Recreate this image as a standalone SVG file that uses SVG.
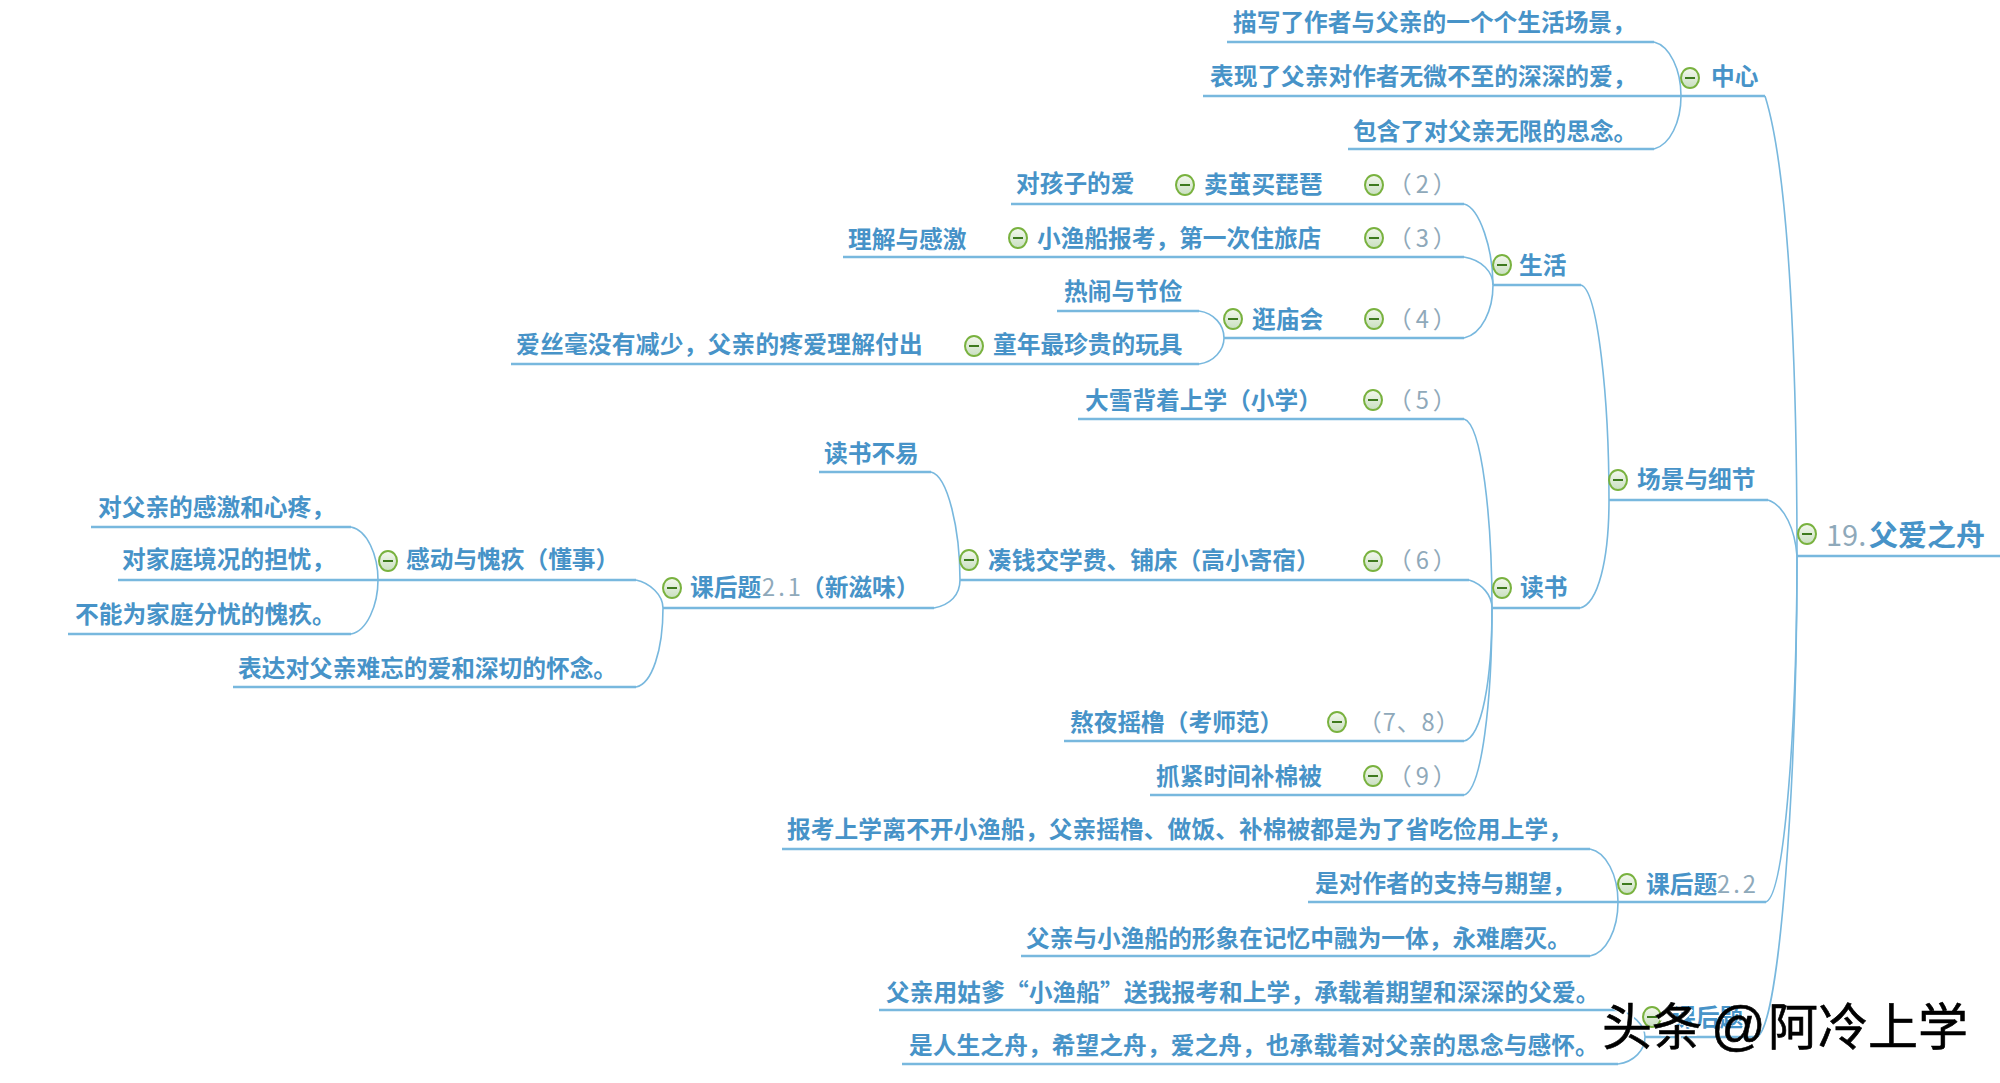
<svg xmlns="http://www.w3.org/2000/svg" width="2000" height="1083" viewBox="0 0 2000 1083">
<style>
text{font-family:"Noto Sans CJK SC","Noto Sans",sans-serif;font-size:23.7px;font-weight:700;fill:#4793c8;transform:translate(0,1px)}
text .n,.n{font-weight:400;fill:#8fa9ba}
.p{letter-spacing:4px}
.c path{fill:none;stroke:#78b8de;stroke-width:1.6}
.c path.u{stroke-width:2.4}
.root{font-size:29px}
.wm{font-size:50px;font-weight:400;fill:#000;stroke:#000;stroke-width:.6}
.ws{font-size:50px;font-weight:400;fill:#fff}
</style>
<defs>
<linearGradient id="g" x1="0" y1="0" x2="0" y2="1"><stop offset="0" stop-color="#f4f8ee"/><stop offset="1" stop-color="#c9dfc0"/></linearGradient>
<g id="i"><ellipse rx="9" ry="10" fill="url(#g)" stroke="#79b23f" stroke-width="2"/><path d="M-5 0H5" stroke="#3e7a1e" stroke-width="2"/></g>
</defs>
<rect width="2000" height="1083" fill="#fff"/>
<g id="connectors" class="c">
<path class="u" d="M1797 556H2000"/>
<path d="M1797 556C1797 380 1790 175 1765 96"/>
<path class="u" d="M1203 96H1765"/>
<path class="u" d="M1227 42H1654"/><path d="M1654 42C1670 46 1681 70 1681 96"/>
<path class="u" d="M1348 149H1654"/><path d="M1654 149C1670 145 1681 122 1681 96"/>
<path class="u" d="M1609 500H1768"/><path d="M1768 500C1785 506 1795 530 1797 556"/>
<path class="u" d="M1493 285H1581"/><path d="M1581 285C1598 290 1609 400 1609 500"/>
<path class="u" d="M1492 608H1580"/><path d="M1580 608C1598 604 1609 560 1609 500"/>
<path class="u" d="M1011 204H1464"/><path d="M1464 204C1480 208 1493 250 1493 285"/>
<path class="u" d="M843 257H1464"/><path d="M1464 257C1482 260 1493 272 1493 285"/>
<path class="u" d="M1224 338H1464"/><path d="M1464 338C1482 334 1493 310 1493 285"/>
<path class="u" d="M1057 311H1199"/><path d="M1199 311C1214 313 1224 325 1224 338"/>
<path class="u" d="M511 364H1199"/><path d="M1199 364C1214 362 1224 350 1224 338"/>
<path class="u" d="M1078 419H1464"/><path d="M1464 419C1482 424 1492 520 1492 608"/>
<path class="u" d="M960 580H1469"/><path d="M1469 580C1482 584 1492 595 1492 608"/>
<path class="u" d="M1064 741H1464"/><path d="M1464 741C1482 737 1492 680 1492 608"/>
<path class="u" d="M1150 795H1464"/><path d="M1464 795C1482 790 1492 700 1492 608"/>
<path class="u" d="M819 472H931"/><path d="M931 472C948 476 960 530 960 580"/>
<path class="u" d="M663 608H934"/><path d="M934 608C950 605 960 595 960 580"/>
<path class="u" d="M118 580H636"/><path d="M636 580C650 583 663 595 663 608"/>
<path class="u" d="M233 687H636"/><path d="M636 687C652 684 663 650 663 608"/>
<path class="u" d="M91 527H351"/><path d="M351 527C367 530 378 555 378 580"/>
<path class="u" d="M68 634H351"/><path d="M351 634C367 631 378 605 378 580"/>
<path class="u" d="M1308 902H1766"/><path d="M1766 902C1785 895 1797 720 1797 556"/>
<path class="u" d="M782 849H1590"/><path d="M1590 849C1606 852 1618 875 1618 902"/>
<path class="u" d="M1021 956H1590"/><path d="M1590 956C1606 953 1618 930 1618 902"/>
<path class="u" d="M1645 1037H1757"/><path d="M1757 1037C1780 1025 1797 780 1797 556"/>
<path class="u" d="M879 1010H1618"/><path d="M1618 1010C1632 1013 1645 1025 1645 1037"/>
<path class="u" d="M902 1064H1618"/><path d="M1618 1064C1634 1062 1645 1050 1645 1037"/>
</g>
<g id="n-root"><use href="#i" x="1807" y="534"/><text class="root" y="545"><tspan class="n" x="1826">19.</tspan><tspan x="1869">父爱之舟</tspan></text></g>
<g id="n-zhongxin"><use href="#i" x="1690" y="78"/><text x="1711" y="84">中心</text></g>
<g id="n-z1"><text x="1233" y="30">描写了作者与父亲的一个个生活场景，</text></g>
<g id="n-z2"><text x="1210" y="84">表现了父亲对作者无微不至的深深的爱，</text></g>
<g id="n-z3"><text x="1353" y="139">包含了对父亲无限的思念。</text></g>
<g id="n-changjing"><use href="#i" x="1618" y="480"/><text x="1637" y="487">场景与细节</text></g>
<g id="n-shenghuo"><use href="#i" x="1502" y="265"/><text x="1519" y="273">生活</text></g>
<g id="n-dushu"><use href="#i" x="1502" y="588"/><text x="1520" y="595">读书</text></g>
<g id="n-maijian"><use href="#i" x="1185" y="185"/><text x="1204" y="192">卖茧买琵琶</text><use href="#i" x="1374" y="185"/><text class="n p" x="1388" y="192">（2）</text></g>
<g id="n-aihaizi"><text x="1016" y="191">对孩子的爱</text></g>
<g id="n-xiaoyu"><use href="#i" x="1018" y="238"/><text x="1037" y="246">小渔船报考，第一次住旅店</text><use href="#i" x="1374" y="238"/><text class="n p" x="1388" y="246">（3）</text></g>
<g id="n-lijie"><text x="848" y="247">理解与感激</text></g>
<g id="n-guang"><use href="#i" x="1233" y="319"/><text x="1252" y="327">逛庙会</text><use href="#i" x="1374" y="319"/><text class="n p" x="1388" y="327">（4）</text></g>
<g id="n-renao"><text x="1064" y="299">热闹与节俭</text></g>
<g id="n-tongnian"><use href="#i" x="974" y="346"/><text x="993" y="352">童年最珍贵的玩具</text></g>
<g id="n-aisi"><text x="516" y="352" letter-spacing=".25">爱丝毫没有减少，父亲的疼爱理解付出</text></g>
<g id="n-daxue"><text x="1085" y="408">大雪背着上学（小学）</text><use href="#i" x="1373" y="400"/><text class="n p" x="1388" y="408">（5）</text></g>
<g id="n-couqian"><use href="#i" x="969" y="560"/><text x="988" y="568">凑钱交学费、铺床（高小寄宿）</text><use href="#i" x="1373" y="561"/><text class="n p" x="1388" y="568">（6）</text></g>
<g id="n-aoye"><text x="1070" y="730">熬夜摇橹（考师范）</text><use href="#i" x="1337" y="722"/><text class="n" x="1358" y="730" letter-spacing="1">（7、8）</text></g>
<g id="n-zhuajin"><text x="1156" y="784">抓紧时间补棉被</text><use href="#i" x="1373" y="776"/><text class="n p" x="1388" y="784">（9）</text></g>
<g id="n-dushubuyi"><text x="824" y="461">读书不易</text></g>
<g id="n-k21"><use href="#i" x="672" y="588"/><text y="595"><tspan x="690">课后题</tspan><tspan class="n" x="762" letter-spacing="3">2.1</tspan><tspan x="801">（新滋味）</tspan></text></g>
<g id="n-gandong"><use href="#i" x="388" y="561"/><text x="406" y="567">感动与愧疚（懂事）</text></g>
<g id="n-g1"><text x="98" y="515">对父亲的感激和心疼，</text></g>
<g id="n-g2"><text x="122" y="567">对家庭境况的担忧，</text></g>
<g id="n-g3"><text x="75" y="622">不能为家庭分忧的愧疚。</text></g>
<g id="n-biaoda"><text x="238" y="676">表达对父亲难忘的爱和深切的怀念。</text></g>
<g id="n-k22"><use href="#i" x="1627" y="884"/><text y="892"><tspan x="1646">课后题</tspan><tspan class="n" x="1717" letter-spacing="3">2.2</tspan></text></g>
<g id="n-k221"><text x="787" y="837" letter-spacing=".1">报考上学离不开小渔船，父亲摇橹、做饭、补棉被都是为了省吃俭用上学，</text></g>
<g id="n-k222"><text x="1315" y="891">是对作者的支持与期望，</text></g>
<g id="n-k223"><text x="1026" y="946">父亲与小渔船的形象在记忆中融为一体，永难磨灭。</text></g>
<g id="n-k3"><use href="#i" x="1652" y="1017"/><text x="1672" y="1025">课后题</text></g>
<g id="n-k31"><text x="886" y="1000" letter-spacing=".1">父亲用姑爹“小渔船”送我报考和上学，承载着期望和深深的父爱。</text></g>
<g id="n-k32"><text x="909" y="1053" letter-spacing=".1">是人生之舟，希望之舟，爱之舟，也承载着对父亲的思念与感怀。</text></g>
<g id="watermark">
<text class="ws" y="1046" x="1604">头条</text><text class="ws" y="1046" x="1770">阿冷上学</text>
<text class="wm" y="1044" x="1602">头条</text><text class="wm" y="1044" x="1768">阿冷上学</text><text class="wm" y="1043" x="1711" style="font-family:'Liberation Sans',sans-serif;font-size:54px">@</text>
</g>
</svg>
